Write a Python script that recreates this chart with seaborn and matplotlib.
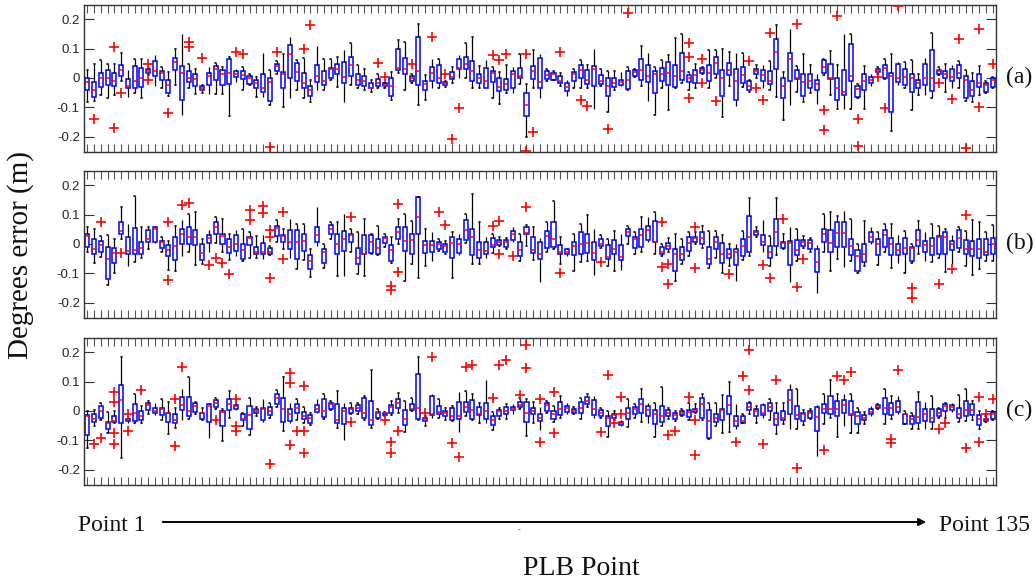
import numpy as np
import pandas as pd
import matplotlib
matplotlib.use("Agg")
import matplotlib.pyplot as plt
import matplotlib.patches as mpatches
import seaborn as sns

# ---------------- data ----------------
points = list(range(1, 136))

# Panel (a): upper whisker, Q3, median, Q1, lower whisker
a_whi = [0.026,0.049,0.06,0.049,0.049,0.086,0.026,0.066,0.066,0.035,
         0.077,0.037,0.02,0.097,0.151,0.049,0.032,-0.025,0.037,0.051,
         0.037,0.072,0.032,0.037,0.015,0.003,0.085,0.026,0.057,0.083,
         0.14,0.06,0.069,-0.008,0.109,0.066,0.066,0.072,0.094,0.119,
         0.043,0.032,-0.008,0.013,-0.017,0.02,0.128,0.123,0.015,0.185,
         0.009,0.066,0.066,-0.01,0.037,0.077,0.119,0.14,0.04,0.06,
         0.037,0.02,0.043,0.037,0.083,-0.022,0.094,0.083,0.032,0.024,
         0.017,-0.008,0.032,0.06,0.043,0.1,0.032,0.024,0.024,0.02,
         0.037,0.032,0.108,0.085,0.037,0.06,0.077,0.137,0.148,0.02,
         0.049,0.038,0.094,0.094,0.097,0.089,0.086,0.086,-0.007,0.043,
         0.043,0.057,0.18,0.02,0.168,0.04,0.081,0.043,0.015,0.066,
         0.092,0.043,0.151,0.151,-0.02,0.041,0.013,0.037,0.066,0.083,
         0.055,0.055,0.06,0.015,0.069,0.153,0.038,0.049,0.043,0.057,
         0.026,0.017,0.041,-0.011,0.003]
a_q3 = [0,-0.014,0.018,0.026,0.018,0.043,-0.005,0.04,0.034,0.03,
        0.057,0.024,-0.008,0.069,0.04,0.024,0.013,-0.028,0.017,0.04,
        0.026,0.066,0.023,0.024,0.006,-0.008,0.013,0.001,0.047,0.02,
        0.111,0.052,0.018,-0.027,0.045,0.024,0.034,0.049,0.055,0.072,
        0.015,0.006,-0.017,-0.005,-0.019,0.001,0.1,0.069,0.007,0.14,
        -0.011,0.038,0.045,-0.014,0.02,0.063,0.072,0.058,0.013,0.035,
        0.023,-0.002,-0.005,0.023,0.035,-0.051,0.041,0.069,0.024,0.018,
        0.007,-0.019,0.02,0.045,0.028,0.041,0.011,0.0,0.001,-0.006,
        0.023,0.026,0.064,0.043,0.023,0.034,0.055,0.045,0.085,0.009,
        0.028,0.034,0.045,0.072,0.026,0.052,0.03,0.038,-0.011,0.032,
        0.026,0.023,0.134,0.001,0.085,0.026,0.015,0.015,-0.006,0.06,
        0.049,0.0,0.026,0.117,-0.028,0.013,0.003,0.032,0.045,0.018,
        0.049,0.032,0.015,-0.006,0.047,0.094,0.028,0.023,0.032,0.045,
        0.006,-0.011,0.013,-0.019,0.0]
a_med = [-0.014,-0.042,-0.002,0.001,-0.011,0.028,-0.028,-0.011,-0.002,0.025,
         0.023,0.018,-0.025,0.055,0.018,0.001,-0.005,-0.036,0.006,0.032,
         0.015,0.017,0.015,0.009,-0.002,-0.019,-0.033,-0.014,0.04,0.013,
         0.081,0.02,-0.017,-0.042,0.006,-0.01,0.032,0.032,0.003,0.045,
         -0.008,-0.01,-0.033,-0.017,-0.023,-0.027,0.034,0.03,-0.002,0.023,
         -0.022,0.017,0.001,-0.019,0.003,0.034,0.049,0.023,-0.002,-0.011,
         0.017,-0.031,-0.022,0.013,0.006,-0.091,0.023,-0.014,0.009,0.015,
         -0.011,-0.031,0.013,0.026,-0.008,0.032,-0.01,-0.027,-0.016,-0.014,
         -0.008,0.02,0.026,0.007,0.013,0.013,0.018,0.006,0.024,-0.002,
         0.009,0.026,0.018,0.052,0.001,0.026,-0.01,0.009,-0.028,0.023,
         0.011,-0.01,0.089,-0.028,0.064,0.001,-0.014,-0.01,-0.022,0.038,
         0.001,-0.036,-0.048,0.007,-0.039,-0.01,-0.008,0.026,0.035,0.006,
         0.001,0.003,0.0,-0.016,-0.002,-0.002,0.023,0.015,0.003,0.018,
         -0.008,-0.04,-0.016,-0.025,-0.008]
a_q1 = [-0.04,-0.065,-0.031,-0.025,-0.027,0.007,-0.033,-0.033,-0.031,0.018,
        0.007,-0.008,-0.051,0.026,-0.074,-0.014,-0.027,-0.042,-0.025,-0.008,
        -0.023,-0.022,0.003,-0.005,-0.022,-0.033,-0.048,-0.078,0.024,-0.036,
        0.001,-0.01,-0.033,-0.061,-0.014,-0.025,0.0,0.013,-0.019,0.007,
        -0.025,-0.028,-0.036,-0.028,-0.028,-0.061,0.026,0.013,-0.01,-0.023,
        -0.042,-0.011,-0.019,-0.025,-0.005,0.03,0.03,-0.011,-0.016,-0.033,
        -0.014,-0.044,-0.04,-0.036,0.001,-0.13,-0.005,-0.033,-0.005,-0.006,
        -0.019,-0.045,-0.011,-0.002,-0.022,-0.027,-0.022,-0.061,-0.031,-0.025,
        -0.039,0.006,-0.006,-0.014,-0.053,-0.01,-0.025,-0.031,-0.008,-0.014,
        -0.016,0.018,-0.01,0.013,-0.061,0.009,-0.074,-0.017,-0.04,0.013,
        -0.01,-0.022,0.032,-0.068,-0.011,-0.005,-0.062,-0.033,-0.04,0.017,
        -0.005,-0.074,-0.057,-0.011,-0.065,-0.04,-0.016,0.02,0.001,-0.116,
        -0.014,-0.025,-0.048,-0.033,-0.023,-0.045,0.015,-0.002,-0.01,-0.002,
        -0.07,-0.063,-0.031,-0.048,-0.031]
a_wlo = [-0.082,-0.08,-0.057,-0.07,-0.057,-0.01,-0.065,-0.053,-0.07,0.01,
         -0.028,-0.036,-0.06,-0.025,-0.125,-0.036,-0.056,-0.05,-0.056,-0.056,
         -0.056,-0.131,-0.014,-0.04,-0.025,-0.065,-0.065,-0.093,0.015,-0.099,
         -0.067,-0.04,-0.067,-0.082,-0.042,-0.04,-0.008,-0.031,-0.082,-0.025,
         -0.033,-0.042,-0.048,-0.033,-0.033,-0.074,0.018,-0.04,-0.016,-0.093,
         -0.074,-0.033,-0.033,-0.03,-0.017,-0.002,-0.002,-0.033,-0.033,-0.036,
         -0.067,-0.088,-0.051,-0.051,-0.022,-0.2,-0.036,-0.068,-0.011,-0.008,
         -0.028,-0.061,-0.033,-0.033,-0.033,-0.105,-0.028,-0.116,-0.04,-0.028,
         -0.042,0.003,-0.028,-0.08,-0.127,-0.033,-0.11,-0.036,-0.016,-0.04,
         -0.033,0.015,-0.033,-0.002,-0.133,-0.027,-0.097,-0.031,-0.048,-0.002,
         -0.033,-0.04,-0.065,-0.144,-0.093,-0.048,-0.082,-0.051,-0.09,0.009,
         -0.057,-0.105,-0.105,-0.105,-0.07,-0.105,-0.027,0.015,-0.005,-0.181,
         -0.025,-0.033,-0.11,-0.057,-0.057,-0.07,0.009,-0.048,-0.033,-0.036,
         -0.078,-0.082,-0.059,-0.051,-0.033]
a_out_pt = [2,5,5,6,10,10,13,16,16,18,23,24,28,29,33,34,44,45,49,52,
            54,55,56,61,62,63,66,66,67,71,74,75,78,81,90,90,90,92,92,94,
            99,100,101,102,106,110,110,112,115,115,118,119,121,127,129,130,131,133,133,135]
a_out_val = [-0.139,0.106,-0.169,-0.051,0.047,-0.008,-0.118,0.123,0.106,0.069,
             0.089,0.083,-0.235,0.089,0.1,0.18,0.052,0.003,0.049,0.138,
             0.013,-0.207,-0.101,0.077,0.06,0.083,0.083,-0.247,-0.184,0.089,
             -0.076,-0.097,-0.173,0.222,0.12,0.072,-0.068,0.064,-0.016,-0.078,
             0.057,-0.033,-0.074,0.153,0.183,-0.11,-0.178,0.21,-0.139,-0.233,
             0.003,-0.101,0.244,-0.016,-0.073,0.131,-0.239,0.168,-0.099,0.047]

# Panel (b)
b_whi = [0.056,0.05,0.027,0.03,0.016,0.124,0.067,0.164,0.058,0.056,
         0.061,0.024,0.01,0.061,0.081,0.101,0.107,0.016,0.047,0.093,
         0.084,0.033,0.047,0.05,0.039,0.027,0.03,-0.007,0.081,0.05,
         0.084,0.067,0.067,-0.018,0.127,-0.001,0.076,0.076,0.103,0.05,
         0.039,0.084,0.033,0.061,0.035,0.022,0.086,0.101,0.078,0.161,
         0.05,0.042,0.016,0.01,0.039,0.033,0.101,0.169,0.073,0.022,
         0.033,0.022,0.019,0.058,0.035,0.064,0.056,0.019,0.076,0.147,
         0.022,-0.013,0.035,0.067,0.099,0.05,0.031,0.016,0.044,0.033,
         0.061,0.039,0.09,0.093,0.107,-0.001,0.019,0.035,0.016,0.039,
         0.039,0.061,0.044,0.044,0.03,-0.001,-0.001,0.044,0.155,0.056,
         0.081,0.027,0.155,0.033,0.058,0.05,0.027,0.019,-0.005,0.101,
         0.109,0.095,0.113,0.086,-0.001,0.078,0.058,0.041,0.067,0.067,
         0.03,0.044,-0.001,0.078,0.041,0.069,0.061,0.05,0.03,0.058,
         0.044,0.081,0.073,0.039,0.064]
b_q3 = [0.035,0.016,0.01,-0.009,-0.013,0.073,0.025,0.053,0.008,0.048,
        0.056,0.01,-0.005,0.025,0.052,0.058,0.048,-0.001,0.031,0.073,
        0.033,0.018,0.031,-0.001,0.025,-0.009,0.002,-0.015,0.061,0.031,
        0.047,0.048,0.035,-0.038,0.058,-0.018,0.065,0.035,0.044,0.035,
        -0.013,0.03,0.03,0.018,0.025,-0.005,0.056,0.059,0.035,0.158,
        0.01,0.01,0.007,0.001,0.025,0.018,0.081,0.05,0.005,0.008,
        0.019,0.014,0.013,0.044,0.005,0.059,0.025,0.005,0.044,0.073,
        -0.005,-0.016,0.005,0.039,0.035,0.008,0.018,-0.005,0.013,-0.003,
        0.05,0.022,0.052,0.061,0.078,-0.009,0.002,-0.016,-0.01,0.025,
        0.025,0.042,-0.009,0.022,0.002,-0.016,-0.018,0.016,0.095,0.044,
        0.031,-0.007,0.086,0.007,0.01,0.014,0.013,0.014,-0.016,0.05,
        0.048,0.076,0.075,0.016,-0.02,-0.001,0.042,0.016,0.047,0.019,
        -0.001,0.019,-0.01,0.048,0.01,0.019,0.027,0.039,0.01,0.047,
        0.013,0.01,0.018,0.018,0.019]
b_med = [0.027,-0.018,-0.003,-0.05,-0.03,0.044,-0.024,-0.02,-0.013,0.018,
         0.052,0.005,-0.02,-0.007,0.035,0.025,0.022,-0.03,0.019,0.056,
         0.027,-0.01,-0.001,-0.022,0.019,-0.026,-0.026,-0.026,0.053,0.027,
         0.008,0.008,0.01,-0.058,0.03,-0.026,0.052,-0.001,0.016,0.031,
         -0.049,-0.033,0.005,-0.015,0.019,-0.022,0.039,0.01,0.013,0.09,
         -0.005,-0.003,-0.001,-0.007,0.002,-0.001,0.048,0.025,-0.02,-0.024,
         -0.003,0.007,0.008,0.033,-0.022,0.036,-0.022,-0.035,0.027,0.018,
         -0.026,-0.026,-0.007,0.001,0.002,-0.03,0.001,-0.043,-0.016,-0.043,
         0.042,0.016,0.03,0.048,0.007,-0.026,-0.007,-0.035,-0.033,0.002,
         0.019,0.019,-0.05,0.005,-0.035,-0.035,-0.026,-0.007,0.025,0.039,
         0.005,-0.026,0.041,0.002,0.002,-0.022,0.005,0.002,-0.06,0.033,
         0.002,0.036,0.036,-0.007,-0.041,-0.035,0.025,0.001,0.03,0.001,
         -0.02,-0.013,-0.013,0.014,-0.003,-0.007,0.022,0.025,-0.001,0.019,
         -0.018,-0.018,-0.016,-0.026,-0.001]
b_q1 = [-0.01,-0.035,-0.026,-0.118,-0.064,0.033,-0.033,-0.035,-0.033,0.008,
        0.008,-0.015,-0.041,-0.055,0.001,0.001,-0.005,-0.055,0.002,0.033,
        0.001,-0.03,-0.024,-0.052,-0.005,-0.033,-0.033,-0.033,0.027,0.005,
        -0.018,-0.05,-0.024,-0.084,0.005,-0.064,0.035,-0.033,-0.024,0.007,
        -0.069,-0.035,-0.03,-0.035,0.002,-0.058,0.016,-0.024,-0.033,0.033,
        -0.032,-0.027,-0.016,-0.026,-0.047,-0.032,0.014,-0.038,-0.047,-0.033,
        -0.01,-0.003,-0.01,0.014,-0.041,0.033,-0.03,-0.05,-0.013,-0.01,
        -0.035,-0.033,-0.039,-0.035,-0.03,-0.056,-0.007,-0.05,-0.033,-0.055,
        0.027,-0.015,-0.009,0.014,0.005,-0.035,-0.018,-0.092,-0.056,-0.024,
        0.008,0.001,-0.069,-0.016,-0.066,-0.049,-0.073,-0.041,-0.026,0.03,
        -0.003,-0.049,-0.007,-0.015,-0.073,-0.038,-0.007,-0.016,-0.094,0.008,
        -0.026,-0.009,-0.009,-0.039,-0.092,-0.061,0.007,-0.039,-0.009,-0.039,
        -0.038,-0.033,-0.058,-0.007,-0.027,-0.039,-0.033,-0.033,-0.022,-0.013,
        -0.035,-0.041,-0.047,-0.038,-0.035]
b_wlo = [-0.026,-0.064,-0.044,-0.14,-0.098,0.016,-0.075,-0.06,-0.049,-0.018,
         0.002,-0.026,-0.09,-0.092,-0.041,-0.026,-0.073,-0.069,-0.026,0.002,
         -0.026,-0.056,-0.041,-0.058,-0.047,-0.047,-0.05,-0.038,0.008,-0.018,
         -0.049,-0.086,-0.056,-0.111,-0.007,-0.081,0.016,-0.109,-0.109,-0.026,
         -0.101,-0.109,-0.035,-0.038,-0.01,-0.064,-0.001,-0.126,-0.069,-0.117,
         -0.075,-0.058,-0.024,-0.033,-0.115,-0.039,0.002,-0.069,-0.069,-0.047,
         -0.03,-0.007,-0.018,0.005,-0.058,-0.007,-0.056,-0.128,-0.026,-0.018,
         -0.069,-0.041,-0.092,-0.06,-0.058,-0.107,-0.013,-0.075,-0.092,-0.09,
         0.001,-0.033,-0.026,0.005,-0.033,-0.041,-0.026,-0.126,-0.067,-0.041,
         -0.001,-0.015,-0.083,-0.049,-0.098,-0.075,-0.126,-0.056,-0.041,0.022,
         -0.026,-0.075,-0.038,-0.018,-0.13,-0.058,-0.013,-0.026,-0.166,-0.026,
         -0.092,-0.05,-0.078,-0.058,-0.098,-0.075,-0.001,-0.072,-0.026,-0.081,
         -0.066,-0.098,-0.064,-0.035,-0.058,-0.06,-0.047,-0.094,-0.069,-0.026,
         -0.075,-0.106,-0.086,-0.058,-0.058]
b_out_pt = [3,6,13,13,15,16,19,20,21,22,25,25,27,27,28,28,28,30,30,40,
            46,46,47,47,53,54,61,62,62,64,66,71,77,86,86,87,87,91,91,96,
            101,102,104,106,107,123,123,127,129,131]
b_out_val = [0.073,-0.03,0.073,-0.124,0.133,0.139,-0.072,-0.049,-0.064,-0.101,
             0.116,0.081,0.13,0.105,0.047,0.022,-0.117,0.11,-0.052,0.09,
             -0.143,-0.158,0.135,-0.095,0.107,0.064,0.061,0.078,-0.035,-0.041,
             0.127,-0.098,-0.06,0.073,-0.078,-0.069,-0.138,0.056,-0.081,-0.103,
             -0.072,-0.115,0.084,-0.145,-0.05,-0.149,-0.183,-0.138,-0.086,0.099]

# Panel (c)
c_whi = [0.0,0.002,0.028,-0.002,0.0,0.185,-0.022,0.057,0.017,0.034,
         0.026,0.04,0.031,0.011,0.076,0.116,0.031,0.011,0.026,0.045,
         0.008,0.068,0.028,-0.006,0.045,0.015,0.042,0.026,0.072,0.117,
         0.026,0.042,0.015,-0.006,0.04,0.057,0.034,0.068,0.028,0.026,
         0.028,0.051,0.14,0.006,-0.002,0.034,0.06,0.034,0.045,0.182,
         -0.017,0.057,0.04,0.011,0.017,0.065,0.068,0.057,0.028,0.106,
         -0.003,0.011,0.023,0.023,0.045,0.04,0.031,0.015,0.034,0.017,
         0.051,0.028,0.015,0.045,0.059,0.051,0.011,0.0,0.0,-0.031,
         0.04,0.023,0.076,0.028,0.028,0.08,0.011,0.0,0.008,0.026,
         0.025,0.057,0.028,0.026,0.055,0.1,0.023,-0.011,0.031,0.017,
         0.026,0.042,0.028,0.028,0.091,0.074,0.003,0.008,0.019,0.057,
         0.106,0.057,0.057,0.057,0.011,-0.003,0.017,0.025,0.074,0.051,
         0.051,0.0,-0.006,0.063,0.031,0.051,0.011,0.028,0.026,0.053,
         0.074,0.034,0.0,-0.019,0.0]
c_q3 = [-0.015,-0.011,0.017,-0.037,-0.017,0.089,-0.026,0.025,0.0,0.028,
        0.009,0.011,-0.006,-0.009,0.048,0.048,0.026,-0.006,0.023,0.036,
        0.0,0.04,0.02,-0.011,0.017,0.006,0.009,0.015,0.059,0.045,
        0.006,0.025,-0.002,-0.015,0.02,0.04,0.028,0.025,0.009,0.011,
        0.019,0.045,0.034,-0.002,-0.006,0.019,0.042,0.003,0.023,0.127,
        -0.025,0.051,0.017,0.0,0.009,0.031,0.031,0.036,0.014,0.028,
        -0.017,0.003,0.014,0.014,0.031,0.031,0.011,-0.011,0.026,0.0,
        0.032,0.017,0.008,0.032,0.048,0.036,0.002,-0.017,-0.009,-0.038,
        0.011,0.014,0.04,0.017,0.003,0.017,0.002,-0.008,0.0,0.003,
        0.008,0.043,0.003,-0.009,0.006,0.051,-0.017,-0.019,0.026,0.008,
        0.019,0.026,-0.006,0.0,0.072,0.017,-0.006,0.0,0.015,0.023,
        0.051,0.034,0.036,0.034,-0.003,-0.015,0.008,0.02,0.043,0.028,
        0.034,-0.009,-0.017,0.032,0.006,0.006,0.006,0.023,0.02,0.009,
        0.034,0.025,-0.014,-0.026,-0.003]
c_med = [-0.019,-0.026,0.0,-0.04,-0.034,0.038,-0.028,-0.006,-0.017,0.019,
         0.0,0.008,-0.008,-0.031,0.02,0.0,0.017,-0.008,0.017,0.028,
         -0.002,0.023,0.017,-0.026,-0.014,0.0,0.006,0.0,0.045,0.008,
         -0.011,0.011,-0.019,-0.023,0.008,0.0,0.023,-0.031,0.0,0.008,
         0.011,-0.006,-0.031,-0.008,-0.008,0.015,0.028,-0.028,0.008,0.009,
         -0.028,-0.011,-0.003,-0.006,-0.017,-0.017,0.015,0.003,-0.011,0.0,
         -0.032,0.0,0.0,0.008,0.019,-0.006,0.0,-0.023,0.019,-0.009,
         0.006,0.011,0.0,0.011,0.034,0.006,-0.008,-0.023,-0.015,-0.042,
         -0.006,0.008,0.025,0.002,-0.011,-0.017,-0.008,-0.015,-0.006,-0.002,
         0.003,0.025,-0.034,-0.023,0.003,0.02,-0.034,-0.034,0.015,0.0,
         -0.006,0.015,-0.028,-0.023,0.036,-0.014,-0.009,-0.006,-0.02,0.008,
         0.008,0.008,0.019,-0.009,-0.019,-0.023,-0.002,0.017,0.011,0.011,
         0.015,-0.011,-0.026,-0.02,-0.011,-0.023,-0.006,0.017,0.015,-0.009,
         0.003,0.003,-0.026,-0.031,-0.009]
c_q1 = [-0.082,-0.037,-0.025,-0.062,-0.037,-0.04,-0.034,-0.034,-0.031,0.003,
        -0.008,-0.014,-0.037,-0.04,0.002,-0.017,-0.002,-0.026,-0.037,0.014,
        -0.051,0.003,0.006,-0.032,-0.062,-0.008,-0.031,-0.015,0.025,-0.037,
        -0.034,-0.006,-0.026,-0.042,-0.002,-0.02,0.008,-0.042,-0.043,-0.006,
        0.0,-0.023,-0.048,-0.023,-0.015,-0.006,0.011,-0.048,0.003,-0.026,
        -0.036,-0.015,-0.011,-0.017,-0.031,-0.026,-0.003,-0.028,-0.014,-0.028,
        -0.048,-0.019,-0.011,0.002,0.015,-0.037,-0.011,-0.034,0.0,-0.026,
        -0.014,-0.002,-0.006,-0.008,0.023,-0.015,-0.017,-0.051,-0.023,-0.048,
        -0.026,-0.011,-0.006,-0.017,-0.043,-0.037,-0.017,-0.026,-0.014,-0.02,
        -0.003,-0.025,-0.091,-0.037,-0.031,-0.009,-0.051,-0.04,0.003,-0.017,
        -0.015,0.0,-0.048,-0.031,-0.011,-0.028,-0.034,-0.023,-0.07,-0.006,
        -0.011,-0.017,-0.006,-0.014,-0.043,-0.031,-0.009,0.011,-0.009,-0.015,
        -0.002,-0.043,-0.043,-0.04,-0.034,-0.037,-0.017,0.0,0.002,-0.025,
        -0.017,-0.014,-0.049,-0.034,-0.026]
c_wlo = [-0.125,-0.051,-0.031,-0.074,-0.04,-0.159,-0.042,-0.042,-0.04,-0.011,
         -0.015,-0.031,-0.08,-0.057,-0.031,-0.026,-0.011,-0.031,-0.091,0.008,
         -0.102,-0.023,0.003,-0.053,-0.082,-0.017,-0.037,-0.023,0.015,-0.068,
         -0.042,-0.031,-0.04,-0.049,-0.008,-0.026,0.002,-0.057,-0.1,-0.011,
         -0.011,-0.031,-0.057,-0.026,-0.017,-0.015,-0.006,-0.072,0.0,-0.03,
         -0.051,-0.023,-0.023,-0.031,-0.034,-0.072,-0.017,-0.031,-0.04,-0.04,
         -0.065,-0.026,-0.026,-0.011,0.008,-0.085,-0.04,-0.065,-0.006,-0.037,
         -0.023,-0.011,-0.011,-0.026,0.015,-0.023,-0.023,-0.089,-0.031,-0.051,
         -0.055,-0.023,-0.037,-0.04,-0.088,-0.053,-0.026,-0.034,-0.017,-0.031,
         -0.006,-0.031,-0.094,-0.051,-0.074,-0.072,-0.063,-0.042,-0.011,-0.042,
         -0.023,-0.031,-0.08,-0.045,-0.06,-0.06,-0.048,-0.026,-0.153,-0.043,
         -0.023,-0.089,-0.053,-0.074,-0.074,-0.045,-0.019,0.008,-0.045,-0.026,
         -0.011,-0.045,-0.063,-0.063,-0.063,-0.063,-0.023,-0.023,-0.003,-0.037,
         -0.034,-0.031,-0.063,-0.037,-0.031]
c_out_pt = [2,3,5,5,5,5,7,7,9,14,14,15,20,23,23,23,28,31,31,31,
            32,33,33,33,40,45,46,46,47,51,52,55,56,57,58,61,62,63,65,66,
            66,68,68,70,70,77,78,79,80,80,87,88,90,91,91,97,98,99,99,101,
            103,106,110,112,113,114,120,120,121,127,128,131,133,133,134,135]
c_out_val = [-0.114,-0.091,0.063,0.032,-0.074,-0.111,-0.009,-0.07,0.072,0.042,
             -0.119,0.15,-0.031,0.04,-0.051,-0.07,-0.182,0.128,0.094,-0.116,
             -0.07,0.085,-0.07,-0.144,-0.037,-0.031,-0.106,-0.144,-0.068,-0.006,
             0.185,-0.11,-0.156,0.15,0.157,0.045,0.157,0.174,0.055,0.225,
             0.145,0.04,-0.106,0.063,-0.076,-0.072,0.123,-0.042,0.049,-0.011,
             -0.082,-0.07,0.049,-0.032,-0.15,-0.105,0.119,0.208,0.072,-0.114,
             0.105,-0.193,-0.133,0.119,0.105,0.131,-0.097,-0.108,0.14,-0.063,
             -0.04,-0.125,0.048,-0.105,-0.009,0.04]

panel_labels = ["(a)", "(b)", "(c)"]
y_ticks = [-0.2, -0.1, 0, 0.1, 0.2]
y_tick_labels = ["-0.2", "-0.1", "0", "0.1", "0.2"]
y_label = "Degrees error (m)"
x_label = "PLB Point"
start_label = "Point 1"
end_label = "Point 135"

# ---------------- style ----------------
sns.set_style("white")
plt.rcParams["font.family"] = ["Liberation Serif", "DejaVu Serif"]
plt.rcParams["axes.unicode_minus"] = False

W, H = 1036, 584
fig = plt.figure(figsize=(W / 100, H / 100), dpi=100)

left = 84 / W
width = (996 - 84) / W
panel_px = [(5, 152), (171, 318), (338, 485)]

panels = [
    (a_whi, a_q3, a_med, a_q1, a_wlo, a_out_pt, a_out_val),
    (b_whi, b_q3, b_med, b_q1, b_wlo, b_out_pt, b_out_val),
    (c_whi, c_q3, c_med, c_q1, c_wlo, c_out_pt, c_out_val),
]


def box_frame(whi, q3, med, q1, wlo):
    rows = []
    for i, p in enumerate(points):
        for v in (wlo[i], q1[i], med[i], q3[i], whi[i]):
            rows.append((p, v))
    return pd.DataFrame(rows, columns=["point", "error"])


for k, (whi, q3, med, q1, wlo, opt, oval) in enumerate(panels):
    top_px, bot_px = panel_px[k]
    ax = fig.add_axes([left, 1 - bot_px / H, width, (bot_px - top_px) / H])
    df = box_frame(whi, q3, med, q1, wlo)
    sns.boxplot(
        data=df, x="point", y="error", native_scale=True,
        whis=(0, 100), width=0.6, showfliers=False, linecolor="black",
        boxprops=dict(facecolor="white", edgecolor="#0000ff", linewidth=1.1),
        medianprops=dict(color="#ff0000", linewidth=1.1),
        whiskerprops=dict(color="black", linewidth=0.9),
        capprops=dict(color="black", linewidth=1.2),
        capwidths=0.12,
        ax=ax,
    )
    odf = pd.DataFrame({"point": opt, "error": oval})
    sns.scatterplot(data=odf, x="point", y="error", marker="+", color="#ff0000",
                    s=60, linewidth=1.2, legend=False, ax=ax, zorder=5)

    ax.set_xlim(0.5, 135.5)
    ax.set_ylim(-0.252, 0.248)
    ax.set_xticks(points)
    ax.set_xticklabels([])
    ax.set_yticks(y_ticks)
    ax.set_yticklabels(y_tick_labels, family=["Liberation Sans", "DejaVu Sans"],
                       fontsize=9.5, color="#262626")
    ax.set_xlabel("")
    ax.set_ylabel("")
    ax.tick_params(axis="x", direction="in", length=5.5, width=0.8,
                   color="#555555", top=True, bottom=True, labelbottom=False)
    ax.tick_params(axis="y", direction="in", length=7.5, width=0.8,
                   color="#333333", left=True, right=True, pad=3)
    for s in ax.spines.values():
        s.set_color("#333333")
        s.set_linewidth(1.0)
    ax.text((1006 - 84) / (996 - 84), 0, panel_labels[k], transform=ax.get_yaxis_transform(),
            ha="left", va="center", fontsize=17, color="#111111")

# y label, bottom annotations
fig.text(21 / W, 1 - 255 / H, y_label, rotation=90, ha="center", va="center",
         fontsize=21, color="#111111")
fig.text(581 / W, 1 - 575 / H, x_label, ha="center", va="baseline",
         fontsize=20, color="#111111")
fig.text(78 / W, 1 - 531 / H, start_label, ha="left", va="baseline",
         fontsize=17, color="#111111")
fig.text(939 / W, 1 - 531 / H, end_label, ha="left", va="baseline",
         fontsize=17, color="#111111")
fig.text(519 / W, 1 - 530 / H, "-", ha="center", va="center", fontsize=6,
         color="#444444")
arrow = mpatches.FancyArrowPatch((160 / W, 1 - 522 / H), (929 / W, 1 - 522 / H),
                                 transform=fig.transFigure, arrowstyle="-|>",
                                 mutation_scale=11, linewidth=1.4, color="black")
fig.add_artist(arrow)

fig.savefig("out.png", dpi=100)
